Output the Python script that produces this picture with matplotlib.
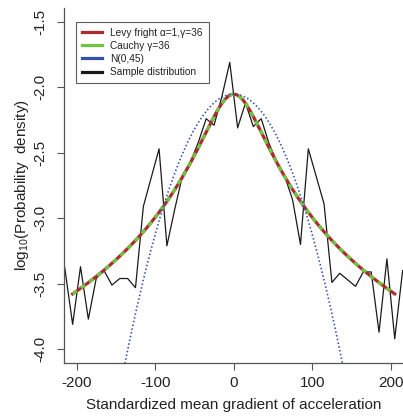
import matplotlib
matplotlib.use("Agg")
import matplotlib.pyplot as plt
from matplotlib.lines import Line2D
import numpy as np

plt.rcParams["font.family"] = ["Liberation Sans", "DejaVu Sans"]
plt.rcParams["mathtext.fontset"] = "custom"
plt.rcParams["mathtext.rm"] = "Liberation Sans"
plt.rcParams["mathtext.default"] = "regular"

# sample distribution (bin centres, log10 density)
sample_x = [-215, -205, -195, -185, -175, -165, -155, -145, -135, -125, -115,
            -105, -95, -85, -75, -65, -55, -45, -35, -25, -15, -5,
            5, 15, 25, 35, 45, 55, 65, 75, 85, 95, 105,
            115, 125, 135, 145, 155, 165, 175, 185, 195, 205, 215]
sample_logd = [-3.38, -3.81, -3.37, -3.77, -3.46, -3.40, -3.51, -3.46, -3.46, -3.53, -2.91,
               -2.69, -2.47, -3.21, -2.93, -2.67, -2.57, -2.42, -2.24, -2.29, -2.07, -1.81,
               -2.31, -2.12, -2.30, -2.24, -2.43, -2.57, -2.68, -2.86, -3.20, -2.47, -2.68,
               -2.89, -3.49, -3.42, -3.47, -3.52, -3.41, -3.41, -3.87, -3.31, -3.92, -3.40]

# model parameters from the legend
levy_alpha = 1
levy_gamma = 36
cauchy_gamma = 36
normal_sd = 45
curve_range = (-205, 205)

labels = ["Levy fright \u03b1=1,\u03b3=36", "Cauchy \u03b3=36", "N(0,45)", "Sample distribution"]
xticks = [-200, -100, 0, 100, 200]
yticks = [-1.5, -2.0, -2.5, -3.0, -3.5, -4.0]

RED = "#b02a2e"
GREEN = "#6cc63e"
BLUE = "#3352b0"
AXCOL = "#555555"


def cauchy_pdf(x, gamma):
    return 1.0 / (np.pi * gamma * (1.0 + (x / gamma) ** 2))


def normal_pdf(x, sd):
    return np.exp(-0.5 * (x / sd) ** 2) / (sd * np.sqrt(2 * np.pi))


xs = np.linspace(curve_range[0], curve_range[1], 600)
# alpha = 1 stable (Levy flight) is the Cauchy law
levy = np.log10(cauchy_pdf(xs, levy_gamma))
cauchy = np.log10(cauchy_pdf(xs, cauchy_gamma))
normal = np.log10(normal_pdf(xs, normal_sd))

fig = plt.figure(figsize=(4.03, 4.19), dpi=100)
ax = fig.add_axes([64 / 403, 56 / 419, 339 / 403, 355 / 419])

ax.plot(sample_x, sample_logd, color="#1a1a1a", lw=0.9, zorder=2)
ax.plot(xs, levy, color=RED, lw=2.3, zorder=3)
ax.plot(xs, cauchy, color=GREEN, lw=2.3, linestyle=(0, (1.6, 1.6)), zorder=4)
ax.plot(xs, normal, color=BLUE, lw=1.2, linestyle=(0, (0.9, 1.4)), zorder=5)

ax.set_xlim(-216, 215.5)
ax.set_ylim(-4.105, -1.395)
ax.set_xticks(xticks)
ax.set_yticks(yticks)
ax.set_xticklabels([str(t) for t in xticks])
ax.set_yticklabels([f"{t:.1f}" for t in yticks], rotation=90, va="center")

for side in ("top", "right"):
    ax.spines[side].set_visible(False)
for side in ("left", "bottom"):
    ax.spines[side].set_color(AXCOL)
    ax.spines[side].set_linewidth(0.9)
ax.tick_params(axis="both", direction="out", length=5, width=0.8, color=AXCOL,
               labelsize=11, labelcolor="#222222")
ax.tick_params(axis="x", pad=4)
ax.tick_params(axis="y", pad=7)

ax.set_xlabel("Standardized mean gradient of acceleration", fontsize=11,
              color="#222222", labelpad=6)
ax.set_ylabel("log$_{10}$(Probability  density)", fontsize=11,
              color="#222222", labelpad=1.5)

handles = [Line2D([], [], color=RED, lw=2.3),
           Line2D([], [], color=GREEN, lw=2.3),
           Line2D([], [], color=BLUE, lw=2.3),
           Line2D([], [], color="#1a1a1a", lw=2.3)]
leg = ax.legend(handles, labels, loc="upper left", bbox_to_anchor=(0.035, 0.961),
                borderaxespad=0, fontsize=7.3, frameon=True, fancybox=False,
                handlelength=2.0, handletextpad=0.8, labelspacing=0.3,
                borderpad=0.6, edgecolor="#333333")
leg.get_frame().set_linewidth(0.8)
for t in leg.get_texts():
    t.set_color("#222222")

fig.savefig("out.png", dpi=100)
